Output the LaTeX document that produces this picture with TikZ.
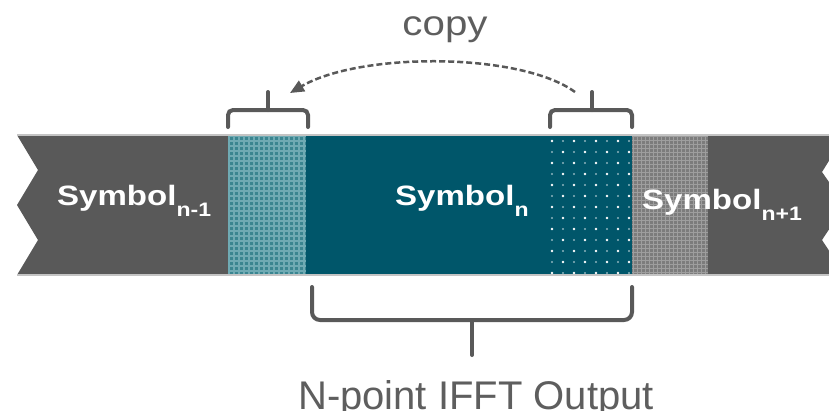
\documentclass[tikz,border=0pt]{standalone}
\usepackage{fontspec}
\setmainfont{Liberation Sans}
\usetikzlibrary{arrows.meta}
\definecolor{dgray}{HTML}{595959}
\definecolor{dteal}{HTML}{00566A}
\definecolor{lteal}{HTML}{3A8590}
\definecolor{lteal2}{HTML}{6FAAB3}
\definecolor{mgray}{HTML}{7C7C7C}
\definecolor{mgray2}{HTML}{9E9E9E}
\definecolor{edgegray}{HTML}{C4C4C4}
\definecolor{txtgray}{HTML}{5E5E5E}
\newcommand{\symlabel}[1]{\scalebox{1.18}[1]{\fontsize{28}{30}\selectfont\bfseries Symbol\raisebox{-11pt}{\fontsize{19.5}{20}\selectfont #1}}}
\begin{document}
\begin{tikzpicture}[x=1pt,y=-1pt,
  bracket/.style={draw=dgray,line width=4pt,rounded corners=5pt,line cap=round},
  symtext/.style={text=white,inner sep=0pt,anchor=base west},
  lbl/.style={text=txtgray,inner sep=0pt,anchor=base},
  copyarrow/.style={draw=dgray,line width=2.5pt,dash pattern=on 6pt off 3pt,-{Triangle[length=14pt,width=12pt]}}]
\clip (0,0) rectangle (829,410);
\fill[white] (0,0) rectangle (829,410);
% left dark gray block
\fill[dgray] (17,135) -- (228,135) -- (228,275) -- (17,275) -- (38,240) -- (17,205) -- (38,170) -- cycle;
% light teal cross-hatched block (cyclic prefix copy)
\fill[lteal] (228,135) rectangle (306,275);
\begin{scope}
  \clip (228,135) rectangle (306,275);
  \foreach \x in {229,234,...,306} {\draw[lteal2,line width=1.2pt] (\x,135) -- (\x,275);}
  \foreach \y in {136,141,...,275} {\draw[lteal2,line width=1.2pt] (228,\y) -- (306,\y);}
\end{scope}
% dark teal block
\fill[dteal] (306,135) rectangle (632,275);
% dotted end part
\begin{scope}
  \clip (548,135) rectangle (632,275);
  \foreach \x [count=\i] in {552,563,...,632} {
    \foreach \y [count=\j] in {141,152,...,275} {
      \pgfmathtruncatemacro{\myparity}{mod(\i+\j,2)}
      \ifnum\myparity=0
        \fill[white] (\x,\y) circle (1.4pt);
      \else
        \fill[white,opacity=0.55] (\x,\y) circle (1.2pt);
      \fi
    }
  }
\end{scope}
% medium gray grid block
\fill[mgray] (632,135) rectangle (708,275);
\begin{scope}
  \clip (632,135) rectangle (708,275);
  \foreach \x in {633,637,...,708} {\draw[mgray2,line width=1pt] (\x,135) -- (\x,275);}
  \foreach \y in {136,140,...,275} {\draw[mgray2,line width=1pt] (632,\y) -- (708,\y);}
\end{scope}
% right dark gray block
\fill[dgray] (708,135) -- (845,135) -- (822,172) -- (845,205) -- (822,240) -- (845,275) -- (708,275) -- cycle;
% light edges of the band
\draw[edgegray,line width=1.2pt] (17,135) -- (845,135);
\draw[edgegray,line width=1.2pt] (17,275) -- (845,275);
% symbol labels
\node[symtext] (symA) at (57,205) {\symlabel{n-1}};
\node[symtext] (symB) at (395,205) {\symlabel{n}};
\node[symtext] (symC) at (642,209) {\symlabel{n+1}};
% top brackets
\draw[bracket] (228,127) -- (228,110) -- (308,110) -- (308,127);
\coordinate (dstTick) at (268,92);
\draw[bracket,rounded corners=0pt] (268,110) -- (dstTick);
\draw[bracket] (550,127) -- (550,110) -- (632,110) -- (632,127);
\coordinate (srcTick) at (592,92);
\draw[bracket,rounded corners=0pt] (592,110) -- (srcTick);
% copy arrow
\coordinate (copyStart) at (575,92);
\coordinate (copyEnd) at (290,93);
\draw[copyarrow] (copyStart) .. controls (520,52) and (360,52) .. (copyEnd);
\node[lbl] (copyLbl) at (445,35) {\scalebox{1.15}[1]{\fontsize{35}{40}\selectfont copy}};
% bottom brace
\draw[bracket,rounded corners=8pt] (312,287) -- (312,320) -- (632,320) -- (632,287);
\coordinate (braceTip) at (472,355);
\draw[bracket,rounded corners=0pt] (472,320) -- (braceTip);
\node[lbl] (ifft) at (476,409) {\fontsize{40}{44}\selectfont N-point IFFT Output};
\end{tikzpicture}
\end{document}
